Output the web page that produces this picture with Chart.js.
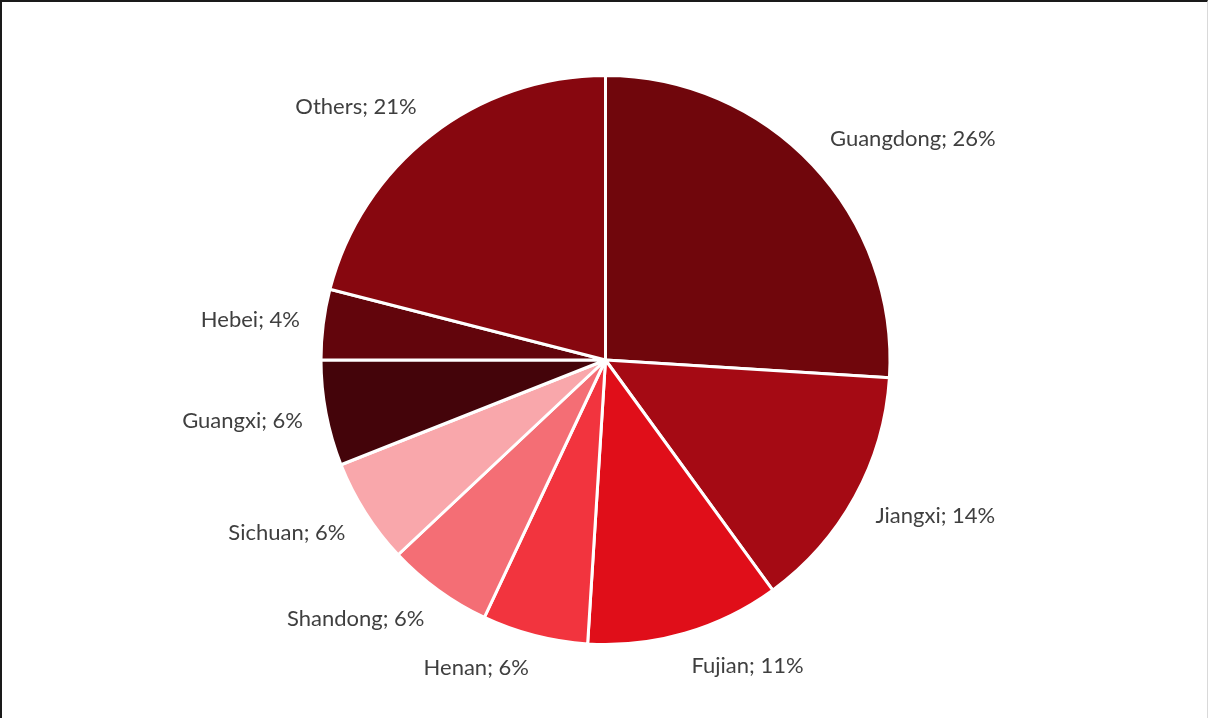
<!DOCTYPE html>
<html>
<head>
<meta charset="utf-8">
<script src="https://cdn.jsdelivr.net/npm/chart.js@4/dist/chart.umd.min.js"></script>
<style>
  html, body { margin: 0; padding: 0; background: #ffffff; }
  #wrap {
    position: relative;
    width: 1208px;
    height: 718px;
    box-sizing: border-box;
    border-top: 2px solid #1a1a1a;
    border-left: 2px solid #1a1a1a;
    border-right: 1px solid #d9d9d9;
    overflow: hidden;
  }
  canvas { position: absolute; left: -2px; top: -2px; }
</style>
</head>
<body>
<div id="wrap"><canvas id="pie" width="1208" height="718"></canvas></div>
<script>
// Share by province (%), clockwise from 12 o'clock
const provinces = ['Guangdong', 'Jiangxi', 'Fujian', 'Henan', 'Shandong', 'Sichuan', 'Guangxi', 'Hebei', 'Others'];
const shares = [26, 14, 11, 6, 6, 6, 6, 4, 21];
const sliceColors = ['#70060c', '#a50a14', '#e00e19', '#f2343e', '#f46e75', '#f9a7ab', '#44040a', '#62050c', '#87070f'];

const LABEL_FONT = '22px Lato';
const LABEL_COLOR = '#3f3f3f';
const LABEL_GAP = 25;      // distance from the rim to the nearest corner of a label
const LABEL_BOX_H = 20;

// Outside-end labels "Name; NN%" placed along each slice's mid angle
const outsideLabels = {
  id: 'outsideLabels',
  afterDatasetsDraw(chart) {
    const ctx = chart.ctx;
    const meta = chart.getDatasetMeta(0);
    const total = shares.reduce((a, b) => a + b, 0);
    ctx.save();
    ctx.font = LABEL_FONT;
    ctx.fillStyle = LABEL_COLOR;
    ctx.textAlign = 'center';
    ctx.textBaseline = 'middle';
    meta.data.forEach((arc, i) => {
      const { x, y, startAngle, endAngle, outerRadius } = arc.getProps(['x', 'y', 'startAngle', 'endAngle', 'outerRadius'], true);
      const mid = (startAngle + endAngle) / 2;
      const dx = Math.cos(mid), dy = Math.sin(mid);
      const r = outerRadius - 1.5 + LABEL_GAP;
      const px = x + r * dx, py = y + r * dy;
      const text = provinces[i] + '; ' + Math.round(shares[i] / total * 100) + '%';
      const w = ctx.measureText(text).width;
      const cx = px + Math.sign(dx) * w / 2;
      const cy = py + Math.max(-1, Math.min(1, 1.5 * dy)) * LABEL_BOX_H / 2;
      ctx.fillText(text, cx, cy);
    });
    ctx.restore();
  }
};

new Chart(document.getElementById('pie'), {
  type: 'pie',
  data: {
    labels: provinces,
    datasets: [{
      data: shares,
      backgroundColor: sliceColors,
      borderColor: '#ffffff',
      borderWidth: 3,
      hoverOffset: 0
    }]
  },
  options: {
    responsive: false,
    animation: false,
    radius: 284.5,
    layout: { padding: { left: 3, right: 0, top: 2, bottom: 0 } },
    plugins: {
      legend: { display: false },
      tooltip: { enabled: false }
    },
    events: []
  },
  plugins: [outsideLabels]
});
</script>
</body>
</html>
